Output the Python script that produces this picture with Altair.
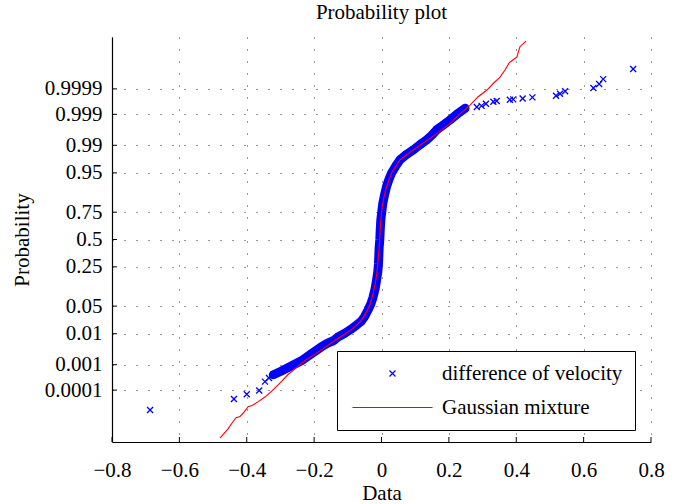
import altair as alt
import pandas as pd
from statistics import NormalDist

# ---------------- data (x = data value, z = normal quantile of probability) -------------
sparse_low_x = [-0.687, -0.438, -0.400, -0.363, -0.346, -0.334]
sparse_low_z = [-4.21, -3.94, -3.82, -3.73, -3.51, -3.42]

band_x = [-0.321, -0.300, -0.281, -0.258, -0.235, -0.208, -0.180, -0.160, -0.143, -0.128,
          -0.110, -0.093, -0.075, -0.060, -0.050, -0.040, -0.032, -0.025, -0.019, -0.015,
          -0.011, -0.009, -0.008, -0.007, -0.005, -0.004, -0.002, 0.001, 0.004, 0.009,
          0.015, 0.022, 0.030, 0.042, 0.055, 0.074, 0.094, 0.114, 0.134, 0.150,
          0.164, 0.184, 0.203, 0.225, 0.248]
band_z = [-3.34, -3.26, -3.18, -3.08, -2.98, -2.82, -2.66, -2.56, -2.50, -2.40,
          -2.32, -2.23, -2.12, -2.02, -1.90, -1.74, -1.60, -1.42, -1.22, -1.02,
          -0.80, -0.60, -0.40, -0.20, 0.00, 0.20, 0.48, 0.70, 0.90, 1.10,
          1.31, 1.48, 1.64, 1.81, 1.97, 2.10, 2.21, 2.34, 2.46, 2.58,
          2.71, 2.83, 2.95, 3.10, 3.24]

sparse_high_x = [0.283, 0.297, 0.310, 0.332, 0.342, 0.381, 0.391, 0.419, 0.448,
                 0.518, 0.530, 0.545, 0.629, 0.646, 0.658, 0.747]
sparse_high_z = [3.27, 3.30, 3.35, 3.40, 3.42, 3.45, 3.46, 3.48, 3.51,
                 3.55, 3.60, 3.66, 3.74, 3.84, 3.96, 4.21]

mix_x = [-0.479, -0.456, -0.441, -0.432, -0.420, -0.408, -0.396, -0.384, -0.367, -0.346,
         -0.325, -0.301, -0.278, -0.251, -0.224, -0.188, -0.143, -0.110, -0.085, -0.062,
         -0.045, -0.033, -0.024, -0.017, -0.012, -0.009, -0.006, -0.004, -0.002, 0.002,
         0.008, 0.015, 0.030, 0.055, 0.094, 0.129, 0.168, 0.203, 0.233, 0.263,
         0.286, 0.313, 0.334, 0.352, 0.367, 0.379, 0.393, 0.402, 0.408, 0.411, 0.429]
mix_z = [-4.90, -4.68, -4.50, -4.40, -4.37, -4.26, -4.13, -4.10, -4.01, -3.89,
         -3.74, -3.54, -3.34, -3.15, -2.97, -2.78, -2.52, -2.34, -2.20, -2.02,
         -1.80, -1.58, -1.32, -1.02, -0.70, -0.40, -0.10, 0.20, 0.48, 0.80,
         1.08, 1.31, 1.64, 1.97, 2.21, 2.41, 2.64, 2.86, 3.10, 3.32,
         3.52, 3.69, 3.87, 4.01, 4.19, 4.36, 4.45, 4.51, 4.68, 4.76, 4.90]

prob_ticks = [0.0001, 0.001, 0.01, 0.05, 0.25, 0.5, 0.75, 0.95, 0.99, 0.999, 0.9999]
prob_labels = ["0.0001", "0.001", "0.01", "0.05", "0.25", "0.5", "0.75", "0.95", "0.99", "0.999", "0.9999"]
x_ticks = [-0.8, -0.6, -0.4, -0.2, 0.0, 0.2, 0.4, 0.6, 0.8]

S1 = "difference of velocity"
S2 = "Gaussian mixture"

# ---------------- tables ----------------
nd = NormalDist()
z_ticks = [round(nd.inv_cdf(p), 6) for p in prob_ticks]

pts = pd.DataFrame({
    "x": sparse_low_x + band_x + sparse_high_x,
    "z": sparse_low_z + band_z + sparse_high_z,
    "series": S1,
})
band = pd.DataFrame({"x": band_x, "z": band_z, "i": range(len(band_x))})
mix = pd.DataFrame({"x": mix_x, "z": mix_z, "series": S2, "i": range(len(mix_x))})
xt = pd.DataFrame({"v": x_ticks})
yt = pd.DataFrame({"v": z_ticks})

FONT = "Liberation Serif"
FS = 21
W, H = 539, 405

label_expr = " : ".join(
    f"abs(datum.value - ({z})) < 0.001 ? '{lab}'" for z, lab in zip(z_ticks, prob_labels)
) + " : ''"

xscale = alt.Scale(domain=[-0.8, 0.8], nice=False, zero=False)
yscale = alt.Scale(domain=[-5, 5], nice=False, zero=False)

cross_path = "M-2,-2L2,2M-2,2L2,-2"
line_path = "M-26.7,0L26.7,0"

color_scale = alt.Scale(domain=[S1, S2], range=["#0000ff", "#ff0000"])
shape_scale = alt.Scale(domain=[S1, S2], range=[cross_path, line_path])

leg = alt.Legend(
    title=None,
    orient="none",
    legendX=225,
    legendY=314,
    padding=12,
    strokeColor="black",
    fillColor="white",
    labelFont=FONT,
    labelFontSize=FS,
    labelColor="black",
    labelLimit=500,
    symbolSize=9,
    symbolOffset=33,
    labelOffset=39,
    rowPadding=12,
    symbolStrokeWidth=1.2,
    labelExpr="datum.label + '\u00a0\u00a0\u00a0\u00a0'",
)

x_axis = alt.Axis(
    values=x_ticks, title="Data", titleFont=FONT, titleFontSize=FS, titleFontWeight="normal",
    titleColor="black", titleX=W / 2, titleY=57, titleBaseline="alphabetic", titleAlign="center",
    labelFont=FONT, labelFontSize=FS, labelColor="black", labelPadding=34,
    labelBaseline="alphabetic", labelFlush=False, labelOverlap=False,
    labelExpr="datum.value == 0 ? '0' : replace(format(datum.value, '.1f'), '-', '\u2212')",
    ticks=False, domainColor="black", domainWidth=1.2,
    grid=True, gridDash=[1, 11], gridColor="#333333", gridWidth=1,
)
y_axis = alt.Axis(
    values=z_ticks, title="Probability", titleFont=FONT, titleFontSize=FS, titleFontWeight="normal",
    titleColor="black", titleX=-90, titleY=H / 2, titleAngle=270, titleBaseline="middle",
    titleAlign="center",
    labelFont=FONT, labelFontSize=FS, labelColor="black", labelPadding=10,
    labelFlush=False, labelOverlap=False,
    labelExpr=label_expr, ticks=False, domainColor="black", domainWidth=1.2,
    grid=True, gridDash=[1, 11], gridColor="#333333", gridWidth=1,
)

band_line = alt.Chart(band).mark_line(color="#0000ff", strokeWidth=9, strokeCap="round",
                                      strokeJoin="round").encode(
    x=alt.X("x:Q", scale=xscale, axis=x_axis),
    y=alt.Y("z:Q", scale=yscale, axis=y_axis),
    order="i:Q",
)

points = alt.Chart(pts).mark_point(filled=False, size=9, strokeWidth=1.3, opacity=1).encode(
    x=alt.X("x:Q", scale=xscale),
    y=alt.Y("z:Q", scale=yscale),
    color=alt.Color("series:N", scale=color_scale, legend=leg, title=None),
    shape=alt.Shape("series:N", scale=shape_scale, legend=leg, title=None),
)

mix_line = alt.Chart(mix).mark_line(strokeWidth=1.1).encode(
    x=alt.X("x:Q", scale=xscale),
    y=alt.Y("z:Q", scale=yscale),
    color=alt.Color("series:N", scale=color_scale, legend=leg, title=None),
    order="i:Q",
)

xticks_layer = alt.Chart(xt).mark_rule(color="black", strokeWidth=1).encode(
    x=alt.X("v:Q", scale=xscale),
    y=alt.value(H),
    y2=alt.value(H - 5),
)
yticks_layer = alt.Chart(yt).mark_rule(color="black", strokeWidth=1).encode(
    y=alt.Y("v:Q", scale=yscale),
    x=alt.value(0),
    x2=alt.value(5),
)

chart = alt.layer(band_line, points, mix_line, xticks_layer, yticks_layer).properties(
    width=W,
    height=H,
    title=alt.TitleParams(
        "Probability plot", font=FONT, fontSize=FS, fontWeight="normal", color="black",
        anchor="middle", offset=16, baseline="alphabetic", dy=19,
    ),
    padding={"left": 112, "top": 37, "right": 38, "bottom": 62},
    autosize=alt.AutoSizeParams(type="none"),
    background="white",
).configure_view(strokeWidth=0)

chart.save("out.html", embed_options={"renderer": "svg", "actions": False})
